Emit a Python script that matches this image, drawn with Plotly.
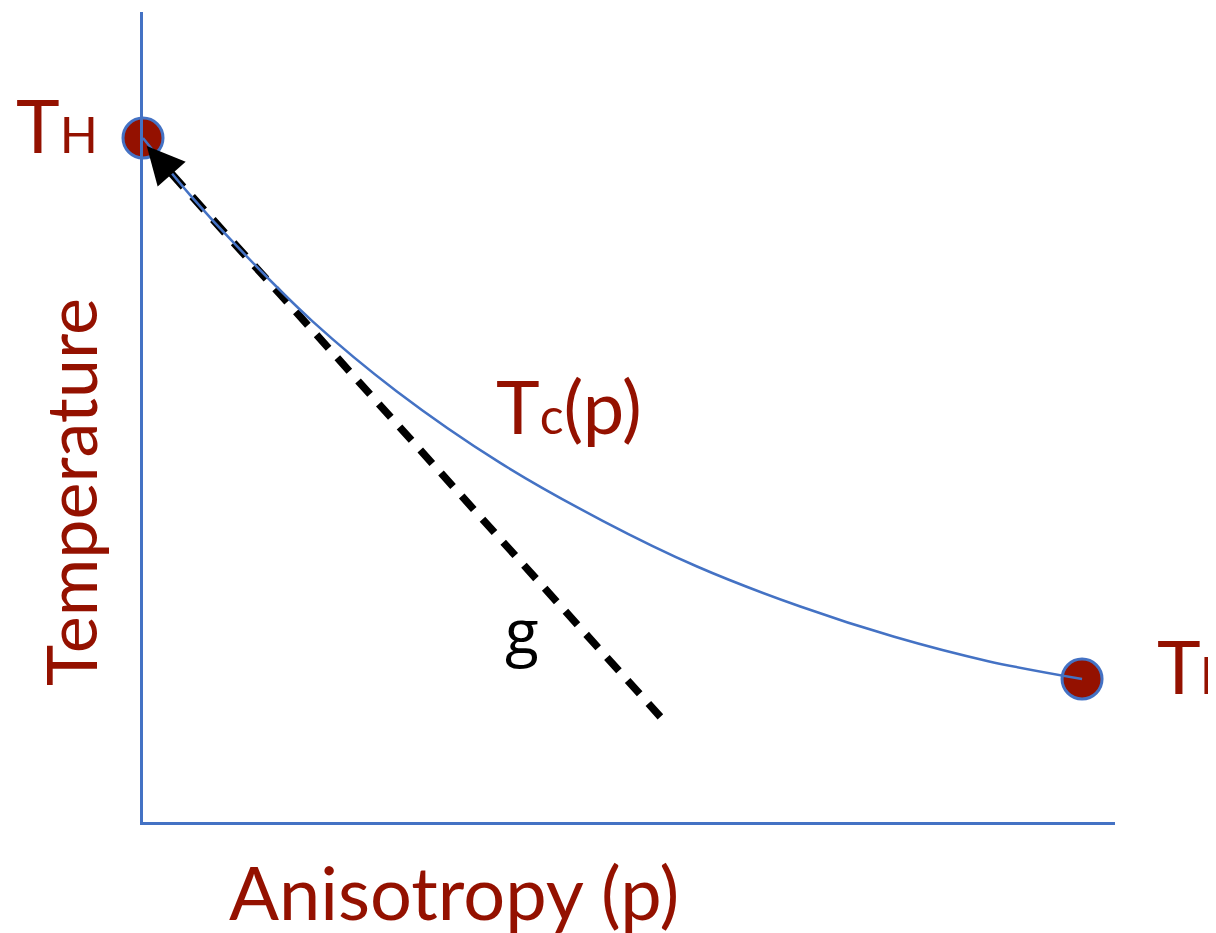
import plotly.graph_objects as go

# ---- data (normalised units: p from 0 to 1, T from T_l=0 to T_H=1) ----
curve_p = [0.0, 0.05, 0.10, 0.18, 0.27, 0.38, 0.49, 0.59, 0.70, 0.80, 0.90, 1.0]
curve_T = [1.0, 0.895, 0.800, 0.662, 0.532, 0.400, 0.292, 0.208, 0.134, 0.078, 0.033, 0.0]

end_p = [0.0, 1.0]          # T_H and T_l end points
end_T = [1.0, 0.0]

g_p = [0.551, 0.004]        # tangent "g" (bottom end, arrow tip)
g_T = [-0.070, 0.985]

x_range = [0.0, 1.0351]
y_range = [-0.2643, 1.2329]

RED = "#941100"
BLUE = "#4472C4"
FONT = "Lato"

fig = go.Figure()

# dashed tangent
fig.add_trace(go.Scatter(
    x=g_p, y=g_T, mode="lines",
    line=dict(color="black", width=7.5, dash="18px,13px"),
    cliponaxis=False, hoverinfo="skip", showlegend=False))

# arrow head at the top end of the tangent
fig.add_annotation(x=g_p[1], y=g_T[1], xref="x", yref="y", text="",
                   showarrow=True, arrowhead=2, arrowsize=1, arrowwidth=7.5,
                   arrowcolor="black", ax=16, ay=18, standoff=0)

# end markers
fig.add_trace(go.Scatter(
    x=end_p, y=end_T, mode="markers",
    marker=dict(size=40, color=RED, line=dict(color=BLUE, width=3)),
    cliponaxis=False, hoverinfo="skip", showlegend=False))

# Tc(p) curve
fig.add_trace(go.Scatter(
    x=curve_p, y=curve_T, mode="lines",
    line=dict(color=BLUE, width=2.5, shape="spline", smoothing=1.0),
    cliponaxis=False, hoverinfo="skip", showlegend=False))

OFF = 8  # page body margin
W, H = 1216, 933
L, T, B, R = 143 - OFF, 12 - OFF, H - (822 - OFF), W - (1115 - OFF)
PW, PH = W - L - R, H - T - B

def px(x):
    return (x - OFF - L) / PW

def py(y):
    return (H - B - (y - OFF)) / PH

def ann(text, x, y, size, color=RED, xanchor="center", yanchor="middle", angle=0, family=FONT):
    fig.add_annotation(text=text, x=px(x), y=py(y), xref="paper", yref="paper",
                       showarrow=False, xanchor=xanchor, yanchor=yanchor, textangle=angle,
                       font=dict(family=family, size=size, color=color))

ann('T<span style="font-size:50px">H</span>', 14, 124, 74, xanchor="left")
ann('T<span style="font-size:50px">l</span>', 1155, 665, 74, xanchor="left")
ann('T<span style="font-size:50px">c</span>(p)', 494, 405, 74, xanchor="left")
ann("g", 522, 630, 62, color="black", family="Open Sans")
ann("Temperature", 70, 492, 70, angle=-90)
ann("Anisotropy (p)", 454, 891, 74)

fig.update_layout(
    width=W, height=H,
    margin=dict(l=L, r=R, t=T, b=B),
    paper_bgcolor="white", plot_bgcolor="white",
    xaxis=dict(range=x_range, showgrid=False, zeroline=False, showticklabels=False,
               ticks="", showline=True, linecolor=BLUE, linewidth=3, layer="above traces",
               fixedrange=True),
    yaxis=dict(range=y_range, showgrid=False, zeroline=False, showticklabels=False,
               ticks="", showline=True, linecolor=BLUE, linewidth=3, layer="above traces",
               fixedrange=True),
)

fig.write_html("out.html")
